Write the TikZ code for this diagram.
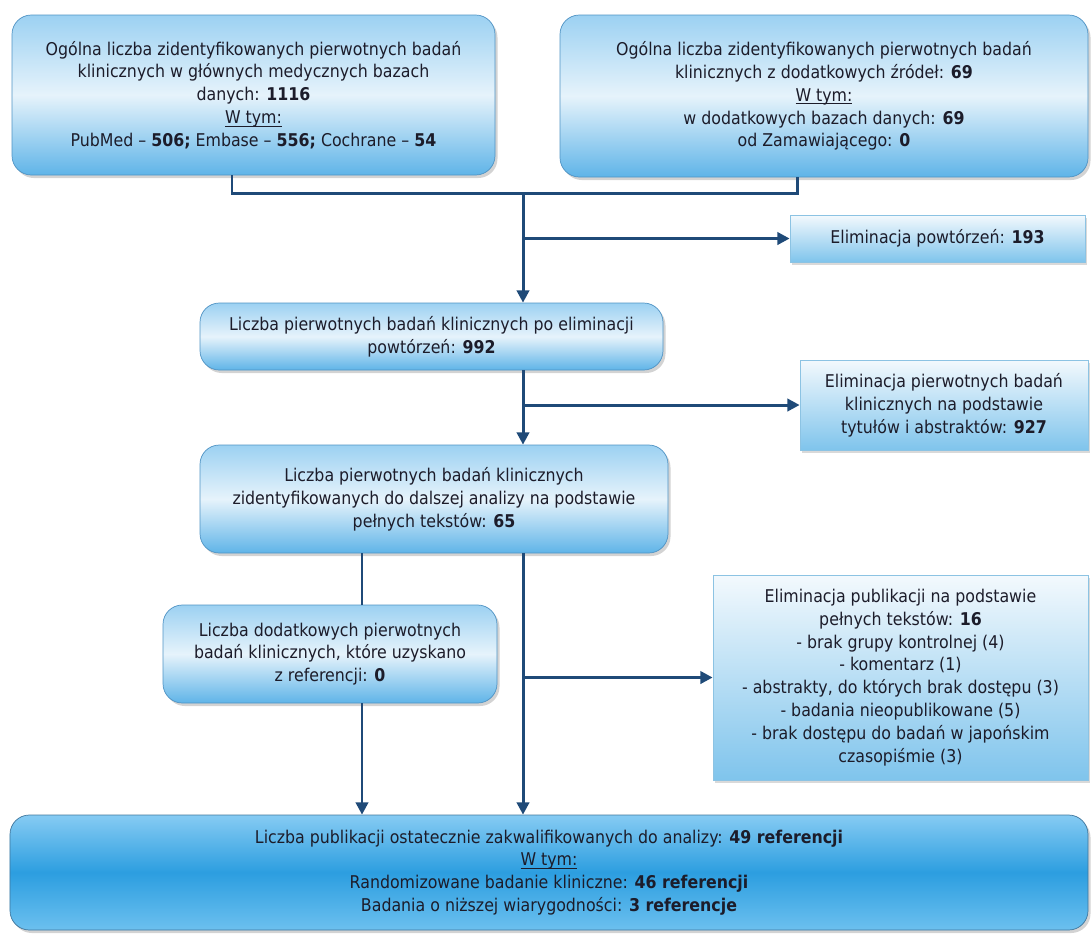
\documentclass[tikz,border=0pt]{standalone}
\usepackage{fontspec}
\setmainfont{DejaVu Sans Condensed}
\usepackage{tikz}
\usetikzlibrary{arrows.meta,calc,shadows}
\definecolor{Navy}{HTML}{1F4A78}
\definecolor{Edge}{HTML}{4F93C4}
\definecolor{EdgeLight}{HTML}{8CC3E3}
\definecolor{SkyTop}{HTML}{9CD1F2}
\definecolor{SkyMid}{HTML}{E6F3FB}
\definecolor{SkyBot}{HTML}{5FB4E8}
\definecolor{PaleTop}{HTML}{F3F9FD}
\definecolor{PaleBot}{HTML}{7FC4EC}
\definecolor{DeepTop}{HTML}{86CBF3}
\definecolor{DeepMid}{HTML}{2C9EE0}
\definecolor{DeepBot}{HTML}{6CC0EF}
\definecolor{Ink}{HTML}{1C1C2A}
\newcommand{\intym}{\underline{\smash{W tym:}}}

\begin{document}
\begin{tikzpicture}[
    font=\fontsize{10}{13}\selectfont,
    stage/.style={draw=Edge,rounded corners=11pt,align=center,text=Ink,inner sep=2pt,
      top color=SkyTop,bottom color=SkyBot,middle color=SkyMid,
      drop shadow={opacity=.35,shadow xshift=.05,shadow yshift=-.06}},
    drop/.style={draw=EdgeLight,align=center,text=Ink,inner sep=2pt,
      top color=PaleTop,bottom color=PaleBot,
      drop shadow={opacity=.3,shadow xshift=.04,shadow yshift=-.05}},
    final/.style={stage,draw=Edge!80!black,top color=DeepTop,bottom color=DeepBot,middle color=DeepMid},
    flow/.style={Navy,line width=1.7pt},
    arr/.style={flow,-{Triangle[width=7pt,length=7pt]}}]
        \useasboundingbox (0,0) rectangle (21.82,-18.72);
        \node[stage,minimum width=9.66cm,minimum height=3.2cm] (dbmain) at (5.07,-1.90)
          {Ogólna liczba zidentyfikowanych pierwotnych badań\\klinicznych w głównych medycznych bazach\\danych: \textbf{1116}\\\intym\\PubMed – \textbf{506;} Embase – \textbf{556;} Cochrane – \textbf{54}};
        \node[stage,minimum width=10.56cm,minimum height=3.24cm] (dbextra) at (16.48,-1.92)
          {Ogólna liczba zidentyfikowanych pierwotnych badań\\klinicznych z dodatkowych źródeł: \textbf{69}\\\intym\\w dodatkowych bazach danych: \textbf{69}\\od Zamawiającego: \textbf{0}};
        \node[drop,minimum width=5.9cm,minimum height=0.94cm] (dupl) at (18.75,-4.77)
          {Eliminacja powtórzeń: \textbf{193}};
        \node[stage,minimum width=9.26cm,minimum height=1.34cm] (afterdupl) at (8.63,-6.73)
          {Liczba pierwotnych badań klinicznych po eliminacji\\powtórzeń: \textbf{992}};
        \node[drop,minimum width=5.76cm,minimum height=1.8cm] (titles) at (18.88,-8.10)
          {Eliminacja pierwotnych badań\\klinicznych na podstawie\\tytułów i abstraktów: \textbf{927}};
        \node[stage,minimum width=9.36cm,minimum height=2.16cm] (fulltext) at (8.68,-9.98)
          {Liczba pierwotnych badań klinicznych\\zidentyfikowanych do dalszej analizy na podstawie\\pełnych tekstów: \textbf{65}};
        \node[stage,minimum width=6.68cm,minimum height=1.96cm] (refs) at (6.60,-13.08)
          {Liczba dodatkowych pierwotnych\\badań klinicznych, które uzyskano\\z referencji: \textbf{0}};
        \node[drop,minimum width=7.5cm,minimum height=4.1cm] (excluded) at (18.01,-13.55)
          {Eliminacja publikacji na podstawie\\pełnych tekstów: \textbf{16}\\- brak grupy kontrolnej (4)\\- komentarz (1)\\- abstrakty, do których brak dostępu (3)\\- badania nieopublikowane (5)\\- brak dostępu do badań w japońskim\\czasopiśmie (3)};
        \node[final,minimum width=21.56cm,minimum height=2.3cm] (included) at (10.98,-17.45)
          {Liczba publikacji ostatecznie zakwalifikowanych do analizy: \textbf{49 referencji}\\\intym\\Randomizowane badanie kliniczne: \textbf{46 referencji}\\Badania o niższej wiarygodności: \textbf{3 referencje}};
        \coordinate (merge) at (10.46,-3.86);
        \coordinate (side) at ($(refs.north)+(0.64,0)$);
        \draw[flow] ($(dbmain.south)+(-0.43,0)$) |- (merge) -| ($(dbextra.south)+(-0.54,0)$);
        \draw[arr] (merge) -- (afterdupl.north -| merge);
        \draw[arr] (merge |- dupl.west) -- (dupl.west);
        \draw[arr] (afterdupl.south -| merge) -- (fulltext.north -| merge);
        \draw[arr] (merge |- titles.west) -- (titles.west);
        \draw[flow] (fulltext.south -| side) -- (side);
        \draw[arr] (refs.south -| side) -- (included.north -| side);
        \draw[arr] (fulltext.south -| merge) -- (included.north -| merge);
        \draw[arr] (merge |- excluded.west) -- (excluded.west);
      \end{tikzpicture}
\end{document}
